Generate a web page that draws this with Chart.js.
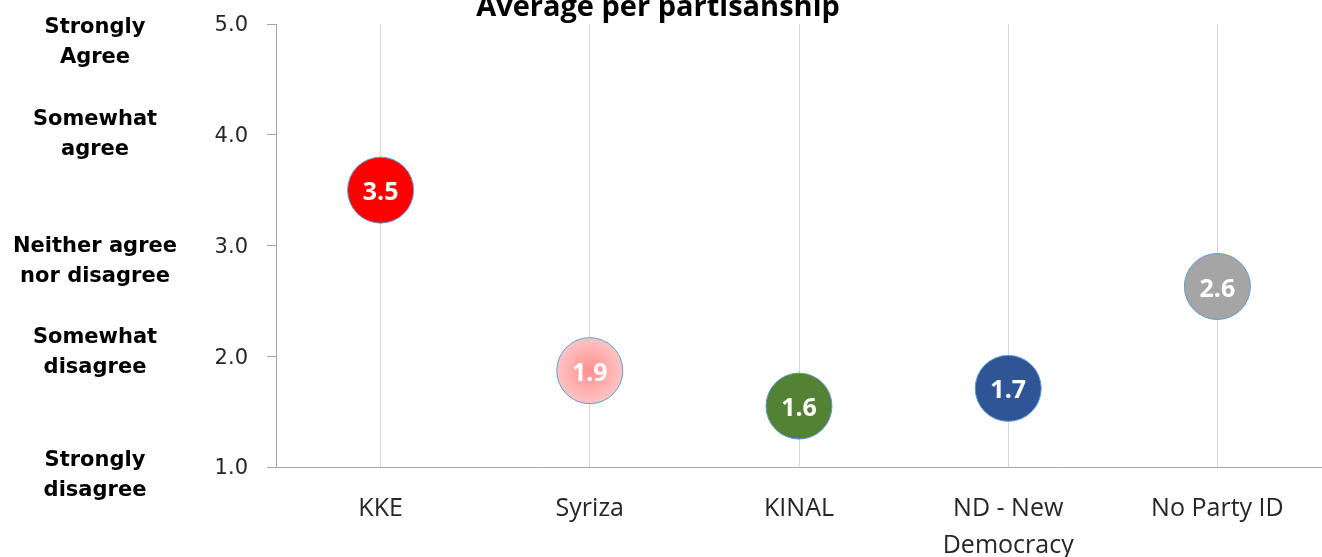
<!DOCTYPE html>
<html>
<head>
<meta charset="utf-8">
<script src="https://cdn.jsdelivr.net/npm/chart.js@4"></script>
<style>
html,body{margin:0;padding:0;background:#fff;}
#wrap{width:1322px;height:557px;position:relative;}
</style>
</head>
<body>
<div id="wrap"><canvas id="c" width="1322" height="557"></canvas></div>
<script>
const categories = ["KKE", "Syriza", "KINAL", ["ND - New", "Democracy"], "No Party ID"];
const averages = [3.5, 1.87, 1.55, 1.71, 2.63];
const valueLabels = ["3.5", "1.9", "1.6", "1.7", "2.6"];
const partyColors = ["#ff0000", "#ffa5a5", "#548235", "#2f5597", "#a5a5a5"];
const yTicks = [1, 2, 3, 4, 5];
const scaleLabels = [["Strongly", "disagree"], ["Somewhat", "disagree"], ["Neither agree", "nor disagree"], ["Somewhat", "agree"], ["Strongly", "Agree"]];
const titleText = "Average per partisanship";

const labelOffsets = [9, -4, 16, 0, 19];

const extras = {
  id: 'extras',
  afterDraw(chart) {
    const ctx = chart.ctx;
    const y = chart.scales.y;
    ctx.save();
    ctx.fillStyle = '#000';
    ctx.font = 'bold 29px "Open Sans"';
    ctx.textAlign = 'center';
    ctx.textBaseline = 'alphabetic';
    ctx.fillText(titleText, 658, 16);
    ctx.font = 'bold 21px "DejaVu Sans"';
    ctx.textBaseline = 'middle';
    yTicks.forEach((t, i) => {
      const cy = y.getPixelForValue(t) + labelOffsets[i];
      const lines = scaleLabels[i];
      lines.forEach((ln, j) => {
        ctx.fillText(ln, 95, cy + (j - (lines.length - 1) / 2) * 30);
      });
    });
    const meta = chart.getDatasetMeta(0);
    ctx.font = 'bold 25px "Open Sans"';
    ctx.fillStyle = '#fff';
    meta.data.forEach((pt, i) => {
      ctx.fillText(valueLabels[i], pt.x, pt.y + 3);
    });
    ctx.restore();
  }
};

function bubbleFill(c) {
  const i = c.dataIndex;
  const chart = c.chart;
  if (i === 1 && chart.chartArea && chart.scales.x) {
    const px = chart.scales.x.getPixelForValue(i);
    const py = chart.scales.y.getPixelForValue(averages[i]);
    const g = chart.ctx.createRadialGradient(px, py, 0, px, py, 33);
    g.addColorStop(0, '#ff8f8f');
    g.addColorStop(1, '#ffc4c4');
    return g;
  }
  return partyColors[i];
}

new Chart(document.getElementById('c'), {
  type: 'line',
  data: {
    labels: categories,
    datasets: [{
      data: averages,
      showLine: false,
      clip: false,
      pointRadius: 33,
      pointHoverRadius: 33,
      pointBackgroundColor: bubbleFill,
      pointBorderColor: '#5b9bd5',
      pointBorderWidth: 1,
      pointHoverBorderWidth: 1
    }]
  },
  plugins: [extras],
  options: {
    responsive: false,
    animation: false,
    events: [],
    layout: { autoPadding: false, padding: { top: 24, right: 0, left: 0, bottom: 0 } },
    plugins: { legend: { display: false }, tooltip: { enabled: false }, title: { display: false } },
    scales: {
      x: {
        type: 'category',
        offset: true,
        grid: { offset: false, color: '#d9d9d9', lineWidth: 1, drawTicks: false },
        border: { color: '#a6a6a6', width: 1 },
        ticks: { color: '#262626', font: { family: '"Open Sans"', size: 25, lineHeight: 1.45 }, padding: 24, maxRotation: 0, autoSkip: false },
        afterFit(s) { s.height = 90; s.paddingLeft = 0; s.paddingRight = 0; }
      },
      y: {
        min: 1, max: 5,
        afterBuildTicks(s) { s.ticks = yTicks.map(v => ({ value: v })); },
        grid: { drawOnChartArea: false, color: '#a6a6a6', tickLength: 9 },
        border: { color: '#a6a6a6', width: 1 },
        ticks: { color: '#262626', font: { family: '"DejaVu Sans"', size: 21 }, padding: 19, labelOffset: 2, callback: v => Number(v).toFixed(1) },
        afterFit(s) { s.width = 276; s.paddingTop = 0; s.paddingBottom = 0; }
      }
    }
  }
});
</script>
</body>
</html>
